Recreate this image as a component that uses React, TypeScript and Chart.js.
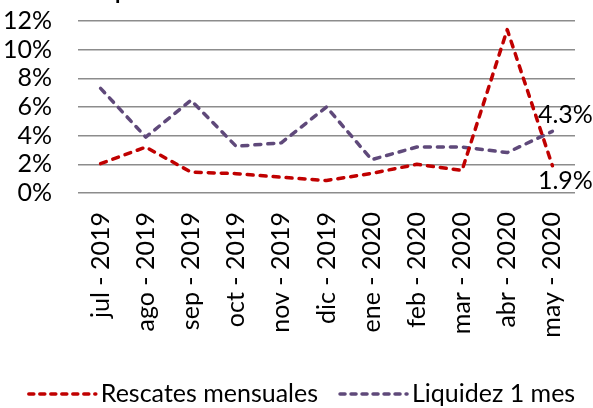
import React, { useEffect, useRef } from "react";
import { Chart, registerables } from "chart.js";

Chart.register(...registerables);

const categories = [
  "jul - 2019", "ago - 2019", "sep - 2019", "oct - 2019", "nov - 2019", "dic - 2019",
  "ene - 2020", "feb - 2020", "mar - 2020", "abr - 2020", "may - 2020",
];
const rescatesMensuales = [2.05, 3.2, 1.46, 1.35, 1.1, 0.87, 1.37, 2.0, 1.58, 11.4, 1.9];
const liquidez1Mes = [7.3, 3.9, 6.47, 3.26, 3.5, 6.0, 2.33, 3.21, 3.21, 2.82, 4.3];
const seriesNames = ["Rescates mensuales", "Liquidez 1 mes"];
const seriesColors = ["#C00000", "#5F497A"];
const yMin = 0;
const yMax = 12;
const yStep = 2;
const titleFragment = "p";

const FONT = "Lato, 'Open Sans', sans-serif";
const FS = 25;

const fmtPct = (v: number) => `${v.toFixed(1)}%`;

const overlayPlugin = {
  id: "overlay",
  afterDatasetsDraw(chart: any) {
    const ctx = chart.ctx as CanvasRenderingContext2D;
    ctx.save();
    const lastIdx = categories.length - 1;
    const lastVals = chart.data.datasets.map((d: any) => d.data[lastIdx]);
    chart.data.datasets.forEach((d: any, i: number) => {
      const meta = chart.getDatasetMeta(i);
      const pt = meta.data[lastIdx];
      if (!pt) return;
      const isTop = lastVals[i] >= Math.max(...lastVals);
      ctx.font = `${FS}px ${FONT}`;
      ctx.fillStyle = "#000";
      ctx.textAlign = "center";
      ctx.textBaseline = "middle";
      ctx.fillText(fmtPct(d.data[lastIdx]), pt.x + 13, pt.y + (isTop ? -16 : 15));
    });
    ctx.restore();
  },
  afterDraw(chart: any) {
    const ctx = chart.ctx as CanvasRenderingContext2D;
    ctx.save();
    ctx.font = `bold 22px ${FONT}`;
    ctx.fillStyle = "#000";
    ctx.textAlign = "left";
    ctx.textBaseline = "alphabetic";
    ctx.fillText(titleFragment, 115, -1);

    ctx.font = `${FS}px ${FONT}`;
    const lineW = 69;
    const gapLT = 5;
    const gapItems = 20;
    const items = chart.data.datasets.map((d: any) => ({
      label: d.label,
      color: d.borderColor,
      w: lineW + gapLT + ctx.measureText(d.label).width,
    }));
    const total = items.reduce((s: number, it: any) => s + it.w, 0) + gapItems * (items.length - 1);
    let x = 301 - total / 2;
    const y = 394;
    items.forEach((it: any) => {
      ctx.strokeStyle = it.color;
      ctx.lineWidth = 3.5;
      ctx.lineCap = "round";
      ctx.setLineDash([5, 6]);
      ctx.beginPath();
      ctx.moveTo(x + 2, y);
      ctx.lineTo(x + lineW, y);
      ctx.stroke();
      ctx.setLineDash([]);
      ctx.fillStyle = "#000";
      ctx.textAlign = "left";
      ctx.textBaseline = "middle";
      ctx.fillText(it.label, x + lineW + gapLT, y);
      x += it.w + gapItems;
    });
    ctx.restore();
  },
};

export default function App() {
  const ref = useRef<HTMLCanvasElement | null>(null);

  useEffect(() => {
    document.body.style.margin = "0";
    if (!ref.current) return;
    const chart = new Chart(ref.current, {
      type: "line",
      data: {
        labels: categories,
        datasets: [
          {
            label: seriesNames[0],
            data: rescatesMensuales,
            borderColor: seriesColors[0],
            backgroundColor: seriesColors[0],
            borderWidth: 3.5,
            borderDash: [6, 7],
            borderCapStyle: "round",
            borderJoinStyle: "round",
            pointRadius: 0,
            tension: 0,
            fill: false,
          },
          {
            label: seriesNames[1],
            data: liquidez1Mes,
            borderColor: seriesColors[1],
            backgroundColor: seriesColors[1],
            borderWidth: 3.5,
            borderDash: [6, 7],
            borderCapStyle: "round",
            borderJoinStyle: "round",
            pointRadius: 0,
            tension: 0,
            fill: false,
          },
        ],
      },
      options: {
        animation: false,
        responsive: true,
        maintainAspectRatio: false,
        layout: { padding: { top: 21, right: 18, left: 0, bottom: 0 } },
        plugins: {
          legend: { display: false },
          tooltip: { enabled: false },
          title: { display: false },
        },
        scales: {
          x: {
            type: "category",
            offset: true,
            grid: { display: false, drawTicks: false },
            border: { display: false },
            ticks: {
              autoSkip: false,
              minRotation: 90,
              maxRotation: 90,
              padding: 19,
              color: "#000",
              font: { family: FONT, size: FS },
            },
            afterFit: (s: any) => {
              s.height = 215;
              s.paddingLeft = 0;
              s.paddingRight = 0;
            },
          },
          y: {
            min: yMin,
            max: yMax,
            grid: { color: "#8c8c8c", lineWidth: 1.6, drawTicks: false },
            border: { display: false },
            ticks: {
              stepSize: yStep,
              autoSkip: false,
              padding: 26,
              color: "#000",
              font: { family: FONT, size: FS },
              callback: (v: any) => `${v}%`,
            },
            afterFit: (s: any) => {
              s.width = 78;
              s.paddingTop = 0;
              s.paddingBottom = 0;
            },
          },
        },
      },
      plugins: [overlayPlugin],
    });
    return () => chart.destroy();
  }, []);

  return (
    <div style={{ width: 593, height: 408, position: "relative" }}>
      <canvas ref={ref} />
    </div>
  );
}
